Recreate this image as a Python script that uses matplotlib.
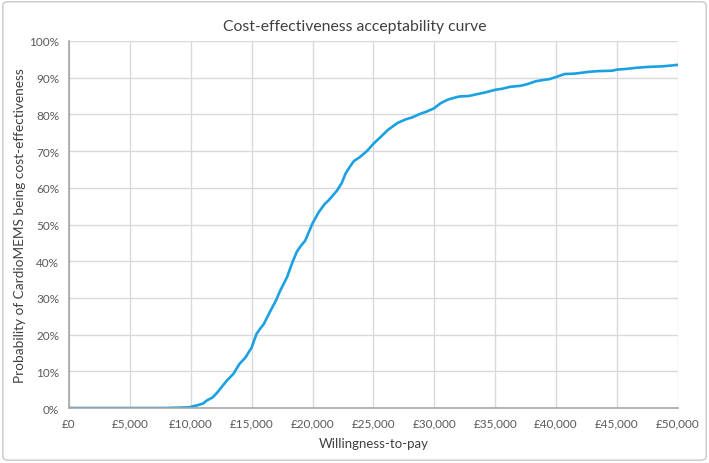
import matplotlib.pyplot as plt
from matplotlib.patches import FancyBboxPatch
from matplotlib.ticker import FuncFormatter, MultipleLocator

# willingness-to-pay (GBP) and probability of being cost-effective (%)
wtp = [0, 2000, 4000, 6000, 8000, 8300, 9000, 9900, 10200, 10500, 11000, 11300,
       11800, 12200, 12600, 13000, 13500, 14000, 14500, 15000, 15400, 15700, 16000,
       16550, 17000, 17350, 17900, 18350, 18700, 19000, 19400, 20000, 20500, 21000,
       21300, 22000, 22400, 22700, 23100, 23400, 23900, 24500, 25000, 25550, 26200,
       27000, 27700, 28200, 28800, 29400, 30000, 30500, 31100, 31600, 32100, 32800,
       33500, 34200, 35000, 35600, 36200, 37100, 37700, 38300, 39000, 39450, 40100,
       40700, 41500, 42000, 42700, 43500, 44600, 45000, 45800, 46600, 47400, 48000,
       48750, 49400, 50000]
prob = [0.0, 0.0, 0.0, 0.0, 0.0, 0.05, 0.1, 0.2, 0.5, 0.7, 1.2, 2.0,
        2.9, 4.3, 6.0, 7.6, 9.3, 12.0, 13.8, 16.5, 20.2, 21.6, 22.9,
        26.5, 29.3, 32.0, 35.6, 39.7, 42.5, 44.0, 45.6, 50.3, 53.3, 55.6,
        56.5, 59.2, 61.3, 63.8, 65.9, 67.3, 68.4, 70.1, 72.0, 73.7, 75.8,
        77.7, 78.7, 79.2, 80.1, 80.8, 81.7, 83.0, 84.0, 84.5, 84.9, 85.0,
        85.5, 86.0, 86.7, 87.0, 87.5, 87.8, 88.3, 89.0, 89.4, 89.6, 90.3,
        91.0, 91.1, 91.3, 91.6, 91.8, 91.9, 92.2, 92.4, 92.7, 92.9, 93.0,
        93.1, 93.3, 93.5]

title = 'Cost-effectiveness acceptability curve'
xlabel = 'Willingness-to-pay'
ylabel = 'Probability of CardioMEMS being cost-effectiveness'

plt.rcParams['font.family'] = ['Lato', 'DejaVu Sans']

fig = plt.figure(figsize=(7.09, 4.64), dpi=100)
ax = fig.add_axes([0.0973, 0.1185, 0.8587, 0.791])

ax.plot(wtp, prob, color='#1ba1e2', lw=1.9, solid_joinstyle='round')

ax.set_xlim(0, 50000)
ax.set_ylim(0, 100)
ax.xaxis.set_major_locator(MultipleLocator(5000))
ax.yaxis.set_major_locator(MultipleLocator(10))
ax.xaxis.set_major_formatter(FuncFormatter(lambda v, p: '£{:,.0f}'.format(v)))
ax.yaxis.set_major_formatter(FuncFormatter(lambda v, p: '{:.0f}%'.format(v)))
ax.tick_params(length=0, labelsize=8.5, colors='#595959', pad=7)
ax.grid(True, color='#d9d9d9', lw=1.0)
ax.set_axisbelow(True)
for s in ['top', 'right']:
    ax.spines[s].set_visible(False)
for s in ['left', 'bottom']:
    ax.spines[s].set_color('#a6a6a6')
    ax.spines[s].set_linewidth(1.2)

ax.set_xlabel(xlabel, fontsize=9.5, color='#404040', labelpad=6)
ax.set_ylabel(ylabel, fontsize=9.8, color='#404040', labelpad=2)
fig.text(0.5, 0.942, title, ha='center', va='center', fontsize=11.3, color='#404040')

# rounded chart border
fig.patches.append(FancyBboxPatch((0.004, 0.006), 0.992, 0.988,
                                  boxstyle='round,pad=0,rounding_size=0.008',
                                  transform=fig.transFigure, fill=False,
                                  edgecolor='#c8c8c8', lw=1.0))

fig.savefig('out.png', dpi=100)
